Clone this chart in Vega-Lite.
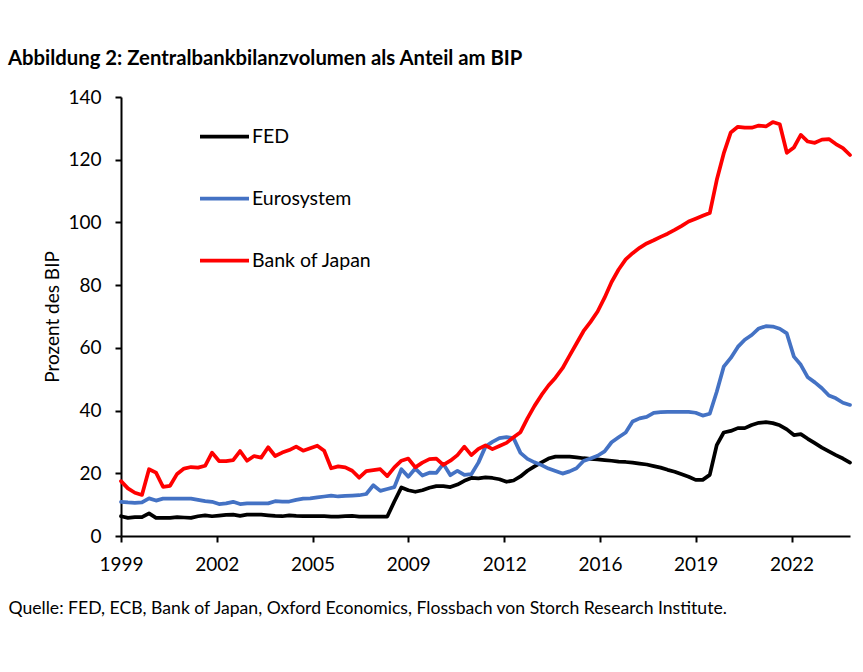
{
  "$schema": "https://vega.github.io/schema/vega-lite/v6.json",
  "width": 729,
  "height": 439,
  "autosize": {"type": "none"},
  "padding": {"left": 121, "top": 97, "right": 13, "bottom": 136},
  "background": "white",
  "title": {
    "text": "Abbildung 2: Zentralbankbilanzvolumen als Anteil am BIP",
    "anchor": "start",
    "frame": "group",
    "dx": -113,
    "font": "Lato",
    "fontSize": 20.3,
    "fontWeight": "bold",
    "color": "#000000",
    "baseline": "alphabetic",
    "offset": 3
  },
  "data": {
    "values": [
      {"d": "1999-01-01", "FED": 6.3, "Eurosystem": 10.9, "Bank of Japan": 17.5},
      {"d": "1999-04-01", "FED": 5.8, "Eurosystem": 10.7, "Bank of Japan": 15.2},
      {"d": "1999-07-01", "FED": 6.0, "Eurosystem": 10.6, "Bank of Japan": 13.8},
      {"d": "1999-10-01", "FED": 6.0, "Eurosystem": 10.7, "Bank of Japan": 13.1},
      {"d": "2000-01-01", "FED": 7.2, "Eurosystem": 12.0, "Bank of Japan": 21.3},
      {"d": "2000-04-01", "FED": 5.8, "Eurosystem": 11.3, "Bank of Japan": 20.2},
      {"d": "2000-07-01", "FED": 5.8, "Eurosystem": 11.9, "Bank of Japan": 15.7},
      {"d": "2000-10-01", "FED": 5.8, "Eurosystem": 11.9, "Bank of Japan": 16.0},
      {"d": "2001-01-01", "FED": 6.0, "Eurosystem": 11.9, "Bank of Japan": 19.8},
      {"d": "2001-04-01", "FED": 5.9, "Eurosystem": 11.9, "Bank of Japan": 21.5},
      {"d": "2001-07-01", "FED": 5.8, "Eurosystem": 11.9, "Bank of Japan": 22.0},
      {"d": "2001-10-01", "FED": 6.3, "Eurosystem": 11.5, "Bank of Japan": 21.8},
      {"d": "2002-01-01", "FED": 6.6, "Eurosystem": 11.1, "Bank of Japan": 22.4},
      {"d": "2002-04-01", "FED": 6.3, "Eurosystem": 10.9, "Bank of Japan": 26.6},
      {"d": "2002-07-01", "FED": 6.5, "Eurosystem": 10.2, "Bank of Japan": 23.9},
      {"d": "2002-10-01", "FED": 6.7, "Eurosystem": 10.4, "Bank of Japan": 23.9},
      {"d": "2003-01-01", "FED": 6.8, "Eurosystem": 10.9, "Bank of Japan": 24.2},
      {"d": "2003-04-01", "FED": 6.4, "Eurosystem": 10.2, "Bank of Japan": 27.1},
      {"d": "2003-07-01", "FED": 6.8, "Eurosystem": 10.4, "Bank of Japan": 24.0},
      {"d": "2003-10-01", "FED": 6.8, "Eurosystem": 10.4, "Bank of Japan": 25.5},
      {"d": "2004-01-01", "FED": 6.8, "Eurosystem": 10.4, "Bank of Japan": 25.0},
      {"d": "2004-04-01", "FED": 6.6, "Eurosystem": 10.4, "Bank of Japan": 28.3},
      {"d": "2004-07-01", "FED": 6.4, "Eurosystem": 11.1, "Bank of Japan": 25.5},
      {"d": "2004-10-01", "FED": 6.3, "Eurosystem": 11.0, "Bank of Japan": 26.6},
      {"d": "2005-01-01", "FED": 6.6, "Eurosystem": 11.0, "Bank of Japan": 27.4},
      {"d": "2005-04-01", "FED": 6.4, "Eurosystem": 11.5, "Bank of Japan": 28.5},
      {"d": "2005-07-01", "FED": 6.3, "Eurosystem": 11.9, "Bank of Japan": 27.2},
      {"d": "2005-10-01", "FED": 6.3, "Eurosystem": 12.0, "Bank of Japan": 28.0},
      {"d": "2006-01-01", "FED": 6.3, "Eurosystem": 12.3, "Bank of Japan": 28.8},
      {"d": "2006-04-01", "FED": 6.3, "Eurosystem": 12.6, "Bank of Japan": 27.2},
      {"d": "2006-07-01", "FED": 6.2, "Eurosystem": 12.9, "Bank of Japan": 21.6},
      {"d": "2006-10-01", "FED": 6.2, "Eurosystem": 12.6, "Bank of Japan": 22.2},
      {"d": "2007-01-01", "FED": 6.3, "Eurosystem": 12.8, "Bank of Japan": 21.9},
      {"d": "2007-04-01", "FED": 6.4, "Eurosystem": 12.9, "Bank of Japan": 20.8},
      {"d": "2007-07-01", "FED": 6.2, "Eurosystem": 13.0, "Bank of Japan": 18.6},
      {"d": "2007-10-01", "FED": 6.2, "Eurosystem": 13.4, "Bank of Japan": 20.7},
      {"d": "2008-01-01", "FED": 6.2, "Eurosystem": 16.2, "Bank of Japan": 21.0},
      {"d": "2008-04-01", "FED": 6.2, "Eurosystem": 14.4, "Bank of Japan": 21.3},
      {"d": "2008-07-01", "FED": 6.2, "Eurosystem": 15.0, "Bank of Japan": 19.1},
      {"d": "2008-10-01", "FED": 11.0, "Eurosystem": 15.6, "Bank of Japan": 21.9},
      {"d": "2009-01-01", "FED": 15.5, "Eurosystem": 21.3, "Bank of Japan": 24.0},
      {"d": "2009-04-01", "FED": 14.6, "Eurosystem": 18.9, "Bank of Japan": 24.7},
      {"d": "2009-07-01", "FED": 14.1, "Eurosystem": 21.5, "Bank of Japan": 21.9},
      {"d": "2009-10-01", "FED": 14.6, "Eurosystem": 19.3, "Bank of Japan": 23.4},
      {"d": "2010-01-01", "FED": 15.4, "Eurosystem": 20.2, "Bank of Japan": 24.5},
      {"d": "2010-04-01", "FED": 15.9, "Eurosystem": 20.1, "Bank of Japan": 24.7},
      {"d": "2010-07-01", "FED": 15.9, "Eurosystem": 23.0, "Bank of Japan": 22.7},
      {"d": "2010-10-01", "FED": 15.6, "Eurosystem": 19.4, "Bank of Japan": 24.0},
      {"d": "2011-01-01", "FED": 16.4, "Eurosystem": 20.8, "Bank of Japan": 25.8},
      {"d": "2011-04-01", "FED": 17.6, "Eurosystem": 19.5, "Bank of Japan": 28.5},
      {"d": "2011-07-01", "FED": 18.5, "Eurosystem": 19.7, "Bank of Japan": 25.8},
      {"d": "2011-10-01", "FED": 18.4, "Eurosystem": 23.4, "Bank of Japan": 27.8},
      {"d": "2012-01-01", "FED": 18.7, "Eurosystem": 28.5, "Bank of Japan": 28.9},
      {"d": "2012-04-01", "FED": 18.5, "Eurosystem": 30.0, "Bank of Japan": 27.7},
      {"d": "2012-07-01", "FED": 18.1, "Eurosystem": 31.2, "Bank of Japan": 28.7},
      {"d": "2012-10-01", "FED": 17.3, "Eurosystem": 31.5, "Bank of Japan": 29.7},
      {"d": "2013-01-01", "FED": 17.7, "Eurosystem": 31.2, "Bank of Japan": 31.5},
      {"d": "2013-04-01", "FED": 19.0, "Eurosystem": 26.5, "Bank of Japan": 33.1},
      {"d": "2013-07-01", "FED": 20.8, "Eurosystem": 24.6, "Bank of Japan": 37.5},
      {"d": "2013-10-01", "FED": 22.2, "Eurosystem": 23.5, "Bank of Japan": 41.5},
      {"d": "2014-01-01", "FED": 23.5, "Eurosystem": 22.6, "Bank of Japan": 45.0},
      {"d": "2014-04-01", "FED": 24.7, "Eurosystem": 21.5, "Bank of Japan": 48.0},
      {"d": "2014-07-01", "FED": 25.3, "Eurosystem": 20.7, "Bank of Japan": 50.5},
      {"d": "2014-10-01", "FED": 25.3, "Eurosystem": 19.9, "Bank of Japan": 53.5},
      {"d": "2015-01-01", "FED": 25.3, "Eurosystem": 20.6, "Bank of Japan": 57.5},
      {"d": "2015-04-01", "FED": 25.1, "Eurosystem": 21.6, "Bank of Japan": 61.4},
      {"d": "2015-07-01", "FED": 24.8, "Eurosystem": 23.9, "Bank of Japan": 65.3},
      {"d": "2015-10-01", "FED": 24.6, "Eurosystem": 24.7, "Bank of Japan": 68.3},
      {"d": "2016-01-01", "FED": 24.4, "Eurosystem": 25.6, "Bank of Japan": 71.6},
      {"d": "2016-04-01", "FED": 24.2, "Eurosystem": 27.0, "Bank of Japan": 76.0},
      {"d": "2016-07-01", "FED": 24.0, "Eurosystem": 29.9, "Bank of Japan": 81.0},
      {"d": "2016-10-01", "FED": 23.7, "Eurosystem": 31.5, "Bank of Japan": 85.0},
      {"d": "2017-01-01", "FED": 23.6, "Eurosystem": 33.0, "Bank of Japan": 88.2},
      {"d": "2017-04-01", "FED": 23.4, "Eurosystem": 36.5, "Bank of Japan": 90.2},
      {"d": "2017-07-01", "FED": 23.1, "Eurosystem": 37.5, "Bank of Japan": 91.9},
      {"d": "2017-10-01", "FED": 22.8, "Eurosystem": 38.0, "Bank of Japan": 93.3},
      {"d": "2018-01-01", "FED": 22.3, "Eurosystem": 39.3, "Bank of Japan": 94.3},
      {"d": "2018-04-01", "FED": 21.8, "Eurosystem": 39.5, "Bank of Japan": 95.4},
      {"d": "2018-07-01", "FED": 21.1, "Eurosystem": 39.6, "Bank of Japan": 96.4},
      {"d": "2018-10-01", "FED": 20.5, "Eurosystem": 39.6, "Bank of Japan": 97.6},
      {"d": "2019-01-01", "FED": 19.7, "Eurosystem": 39.6, "Bank of Japan": 98.9},
      {"d": "2019-04-01", "FED": 18.9, "Eurosystem": 39.6, "Bank of Japan": 100.3},
      {"d": "2019-07-01", "FED": 17.9, "Eurosystem": 39.3, "Bank of Japan": 101.2},
      {"d": "2019-10-01", "FED": 17.9, "Eurosystem": 38.4, "Bank of Japan": 102.1},
      {"d": "2020-01-01", "FED": 19.5, "Eurosystem": 39.0, "Bank of Japan": 103.0},
      {"d": "2020-04-01", "FED": 29.0, "Eurosystem": 46.0, "Bank of Japan": 113.5},
      {"d": "2020-07-01", "FED": 33.0, "Eurosystem": 54.0, "Bank of Japan": 122.0},
      {"d": "2020-10-01", "FED": 33.5, "Eurosystem": 56.8, "Bank of Japan": 128.7},
      {"d": "2021-01-01", "FED": 34.4, "Eurosystem": 60.3, "Bank of Japan": 130.5},
      {"d": "2021-04-01", "FED": 34.4, "Eurosystem": 62.6, "Bank of Japan": 130.2},
      {"d": "2021-07-01", "FED": 35.4, "Eurosystem": 64.1, "Bank of Japan": 130.2},
      {"d": "2021-10-01", "FED": 36.1, "Eurosystem": 66.2, "Bank of Japan": 130.9},
      {"d": "2022-01-01", "FED": 36.3, "Eurosystem": 66.9, "Bank of Japan": 130.6},
      {"d": "2022-04-01", "FED": 36.0, "Eurosystem": 66.8, "Bank of Japan": 132.0},
      {"d": "2022-07-01", "FED": 35.3, "Eurosystem": 66.1, "Bank of Japan": 131.3},
      {"d": "2022-10-01", "FED": 34.0, "Eurosystem": 64.6, "Bank of Japan": 122.2},
      {"d": "2023-01-01", "FED": 32.2, "Eurosystem": 57.2, "Bank of Japan": 123.9},
      {"d": "2023-04-01", "FED": 32.5, "Eurosystem": 54.6, "Bank of Japan": 127.9},
      {"d": "2023-07-01", "FED": 31.0, "Eurosystem": 50.6, "Bank of Japan": 125.8},
      {"d": "2023-10-01", "FED": 29.6, "Eurosystem": 49.0, "Bank of Japan": 125.4},
      {"d": "2024-01-01", "FED": 28.2, "Eurosystem": 47.1, "Bank of Japan": 126.4},
      {"d": "2024-04-01", "FED": 27.0, "Eurosystem": 44.8, "Bank of Japan": 126.6},
      {"d": "2024-07-01", "FED": 25.8, "Eurosystem": 43.9, "Bank of Japan": 125.0},
      {"d": "2024-10-01", "FED": 24.7, "Eurosystem": 42.5, "Bank of Japan": 123.7},
      {"d": "2025-01-01", "FED": 23.4, "Eurosystem": 41.8, "Bank of Japan": 121.5}
    ]
  },
  "transform": [
    {"fold": ["FED", "Eurosystem", "Bank of Japan"], "as": ["serie", "wert"]}
  ],
  "mark": {"type": "line", "strokeWidth": 3.75, "strokeJoin": "round", "strokeCap": "round"},
  "encoding": {
    "x": {
      "field": "d",
      "type": "temporal",
      "scale": {
        "type": "utc",
        "domain": [
          {"year": 1999, "month": 1, "date": 1, "utc": true},
          {"year": 2025, "month": 1, "date": 1, "utc": true}
        ]
      },
      "axis": {
        "values": [
          {"year": 1999, "month": 1, "date": 1, "utc": true},
          {"year": 2002, "month": 6, "date": 1, "utc": true},
          {"year": 2005, "month": 11, "date": 1, "utc": true},
          {"year": 2009, "month": 4, "date": 1, "utc": true},
          {"year": 2012, "month": 9, "date": 1, "utc": true},
          {"year": 2016, "month": 2, "date": 1, "utc": true},
          {"year": 2019, "month": 7, "date": 1, "utc": true},
          {"year": 2022, "month": 12, "date": 1, "utc": true}
        ],
        "format": "%Y",
        "grid": false,
        "domainColor": "#000000",
        "domainWidth": 2,
        "tickColor": "#000000",
        "tickWidth": 2,
        "tickSize": 6,
        "labelPadding": 13,
        "labelFont": "Lato",
        "labelFontSize": 19,
        "labelColor": "#000000",
        "labelFlush": false,
        "labelOverlap": false,
        "title": "Quelle: FED, ECB, Bank of Japan, Oxford Economics, Flossbach von Storch Research Institute.",
        "titleFont": "Lato",
        "titleFontSize": 17.6,
        "titleFontWeight": "normal",
        "titleColor": "#000000",
        "titleAlign": "left",
        "titleAnchor": "start",
        "titleBaseline": "alphabetic",
        "titleX": -113,
        "titleY": 77
      }
    },
    "y": {
      "field": "wert",
      "type": "quantitative",
      "scale": {"domain": [0, 140], "nice": false},
      "axis": {
        "values": [0, 20, 40, 60, 80, 100, 120, 140],
        "grid": false,
        "domainColor": "#000000",
        "domainWidth": 2,
        "tickColor": "#000000",
        "tickWidth": 2,
        "tickSize": 6,
        "labelPadding": 14,
        "labelFont": "Lato",
        "labelFontSize": 19,
        "labelColor": "#000000",
        "labelFlush": false,
        "title": "Prozent des BIP",
        "titleFont": "Lato",
        "titleFontSize": 19,
        "titleFontWeight": "normal",
        "titleColor": "#000000",
        "titleAngle": -90,
        "titleAlign": "center",
        "titleBaseline": "alphabetic",
        "titleX": -63,
        "titleY": 219.5
      }
    },
    "color": {
      "field": "serie",
      "type": "nominal",
      "scale": {
        "domain": ["FED", "Eurosystem", "Bank of Japan"],
        "range": ["#000000", "#4472C4", "#FF0000"]
      },
      "legend": {
        "title": null,
        "orient": "none",
        "legendX": 77,
        "legendY": 13,
        "padding": 0,
        "symbolType": "stroke",
        "symbolSize": 2401,
        "symbolStrokeWidth": 3.75,
        "rowPadding": 26,
        "labelOffset": 1,
        "labelFont": "Lato",
        "labelFontSize": 19.5,
        "labelColor": "#000000"
      }
    }
  },
  "config": {
    "view": {"stroke": null},
    "font": "Lato"
  }
}
